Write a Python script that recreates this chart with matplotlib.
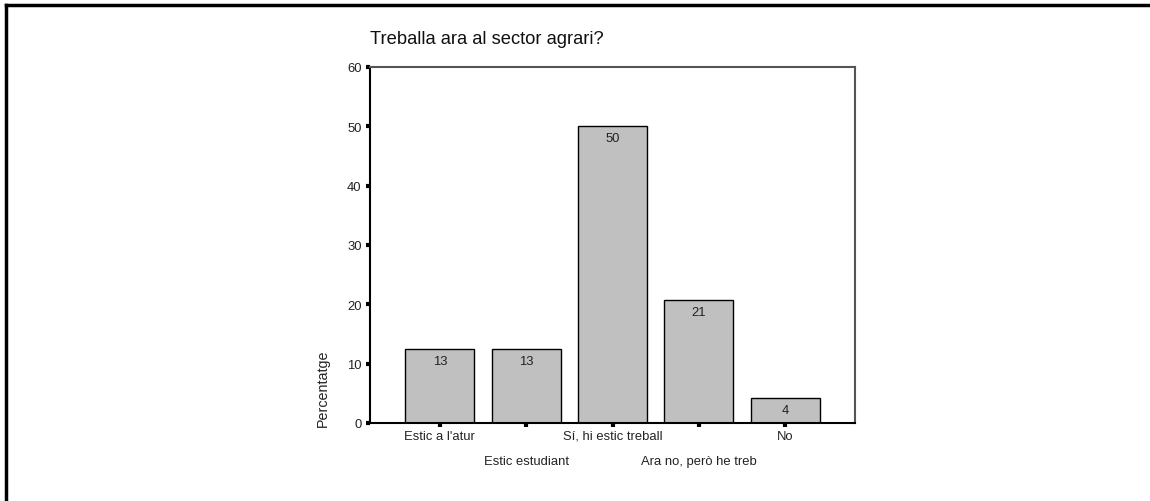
import matplotlib.pyplot as plt

plt.rcParams['font.family'] = ['Liberation Sans', 'DejaVu Sans']

# Data
categories = ["Estic a l'atur", "Estic estudiant", "Sí, hi estic treball",
              "Ara no, però he treb", "No"]
percent = [12.5, 12.5, 50.0, 20.8, 4.2]
bar_labels = ['13', '13', '50', '21', '4']
y_ticks = [0, 10, 20, 30, 40, 50, 60]

W, H = 1150, 502
fig = plt.figure(figsize=(W / 100, H / 100), dpi=100)

# outer frame: only top and left edges are visible in the reference
fig.add_artist(plt.Line2D([6 / W, 1.0], [1 - 6 / H, 1 - 6 / H],
                          color='black', lw=2.5, transform=fig.transFigure))
fig.add_artist(plt.Line2D([6 / W, 6 / W], [0, 1 - 6 / H],
                          color='black', lw=2.5, transform=fig.transFigure))

ax = fig.add_axes([370 / W, 1 - 424 / H, 485 / W, 356 / H])

x = range(len(categories))
bars = ax.bar(x, percent, width=0.8, color='#c0c0c0', edgecolor='black', linewidth=1)

for bar, lab in zip(bars, bar_labels):
    ax.text(bar.get_x() + bar.get_width() / 2, bar.get_height() - 1.0, lab,
            ha='center', va='top', fontsize=9.4, color='#222222')

ax.set_xlim(-0.81, 4.81)
ax.set_ylim(0, 60)
ax.set_yticks(y_ticks)
ax.set_xticks(list(x))
ax.set_xticklabels([''] * len(categories))

# staggered category labels (offsets in points, 1 pt = 1.39 px)
for i, cat in enumerate(categories):
    off = -13 / 1.39 if i % 2 == 0 else -38 / 1.39
    ax.annotate(cat, xy=(i, 0), xycoords='data', xytext=(0, off),
                textcoords='offset points', ha='center', va='center',
                fontsize=9.4, color='#222222', annotation_clip=False)

ax.tick_params(axis='y', direction='out', length=3, width=3, color='black',
               labelsize=9.4, labelcolor='#222222', pad=3)
ax.tick_params(axis='x', direction='out', length=3, width=3, color='black', pad=2)

for side in ('left', 'bottom'):
    ax.spines[side].set_color('black')
    ax.spines[side].set_linewidth(1.5)
for side in ('top', 'right'):
    ax.spines[side].set_color('#555555')
    ax.spines[side].set_linewidth(1.5)

fig.text(323 / W, 1 - 388 / H, 'Percentatge', rotation=90, fontsize=10.3,
         ha='center', va='center', color='#222222')

fig.text(370 / W, 1 - 39 / H, 'Treballa ara al sector agrari?',
         fontsize=13.2, ha='left', va='center', color='#111111')

fig.savefig('out.png', dpi=100)
